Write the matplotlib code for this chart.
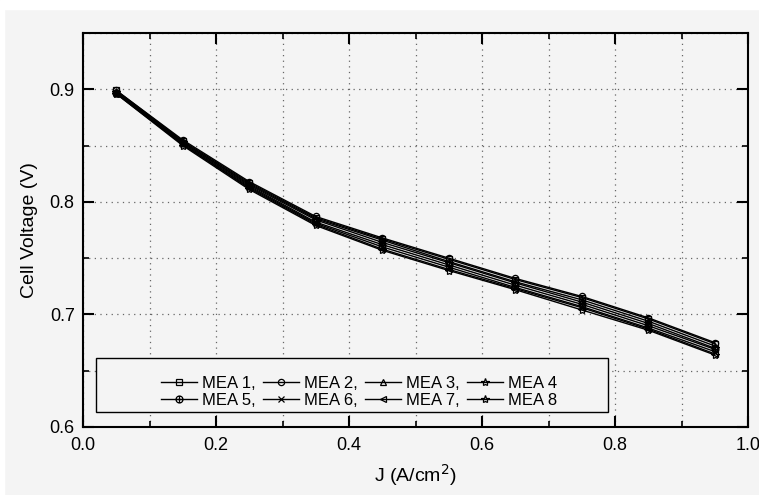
import matplotlib
matplotlib.use("Agg")
import matplotlib.pyplot as plt
import numpy as np
from matplotlib.path import Path
from matplotlib.patches import Rectangle
from matplotlib.ticker import MultipleLocator

plt.rcParams['font.family'] = ['Liberation Sans', 'DejaVu Sans']

J = [0.05, 0.15, 0.25, 0.35, 0.45, 0.55, 0.65, 0.75, 0.85, 0.95]
mea1 = [0.899, 0.854, 0.817, 0.786, 0.767, 0.749, 0.731, 0.715, 0.696, 0.674]
mea2 = [0.899, 0.855, 0.818, 0.787, 0.768, 0.750, 0.732, 0.716, 0.697, 0.675]
mea3 = [0.898, 0.853, 0.816, 0.785, 0.766, 0.747, 0.729, 0.713, 0.694, 0.672]
mea4 = [0.898, 0.853, 0.815, 0.784, 0.764, 0.746, 0.728, 0.711, 0.692, 0.670]
mea5 = [0.897, 0.852, 0.814, 0.782, 0.762, 0.744, 0.726, 0.709, 0.690, 0.669]
mea6 = [0.897, 0.851, 0.813, 0.781, 0.760, 0.742, 0.724, 0.707, 0.688, 0.667]
mea7 = [0.896, 0.851, 0.812, 0.780, 0.758, 0.740, 0.723, 0.706, 0.687, 0.665]
mea8 = [0.896, 0.850, 0.811, 0.779, 0.757, 0.739, 0.722, 0.704, 0.686, 0.664]
labels = ["MEA 1,", "MEA 2,", "MEA 3,", "MEA 4", "MEA 5,", "MEA 6,", "MEA 7,", "MEA 8"]
series = [mea1, mea2, mea3, mea4, mea5, mea6, mea7, mea8]

# circle with plus marker
circ = Path.unit_circle()
verts = list(circ.vertices) + [(-1, 0), (1, 0), (0, -1), (0, 1)]
codes = list(circ.codes) + [Path.MOVETO, Path.LINETO, Path.MOVETO, Path.LINETO]
oplus = Path(verts, codes)

markers = ['s', 'o', '^', '*', oplus, 'x', '<', '*']
msizes = [4.5, 4.5, 5, 6, 5, 5, 5, 6]

bg = '#f4f4f4'
fig = plt.figure(figsize=(7.59, 4.95), dpi=100, facecolor=bg)
ax = fig.add_axes([83/759, 1-427/495, 665/759, 394/495])
ax.set_facecolor(bg)

# white border strips of the original image
fig.patches.append(Rectangle((0, 1-9/495), 1, 9/495, transform=fig.transFigure, color='white', zorder=-10))
fig.patches.append(Rectangle((0, 0), 4/759, 1, transform=fig.transFigure, color='white', zorder=-10))

handles = []
for s, m, ms, lab in zip(series, markers, msizes, labels):
    h, = ax.plot(J, s, color='black', lw=1.0, marker=m, markersize=ms,
                 markerfacecolor='none', markeredgecolor='black', markeredgewidth=0.9, label=lab)
    handles.append(h)

ax.set_xlim(0, 1.0)
ax.set_ylim(0.6, 0.95)
ax.xaxis.set_major_locator(MultipleLocator(0.2))
ax.xaxis.set_minor_locator(MultipleLocator(0.1))
ax.yaxis.set_major_locator(MultipleLocator(0.1))
ax.yaxis.set_minor_locator(MultipleLocator(0.05))
ax.xaxis.set_major_formatter(plt.FuncFormatter(lambda v, p: f"{v:.1f}"))
ax.yaxis.set_major_formatter(plt.FuncFormatter(lambda v, p: f"{v:.1f}"))

ax.tick_params(which='both', direction='in', top=True, right=True, colors='black', labelsize=13)
ax.tick_params(which='major', length=8, width=1.5)
ax.tick_params(which='minor', length=4, width=1.2)
ax.tick_params(axis='x', pad=7)
ax.tick_params(axis='y', pad=6)
for sp in ax.spines.values():
    sp.set_linewidth(1.5)

ax.grid(True, which='both', color='#666666', linestyle=(0, (1, 3.5)), linewidth=0.9)
ax.set_axisbelow(True)

ax.set_xlabel("J (A/cm$^2$)", fontsize=14, labelpad=6)
ax.set_ylabel("Cell Voltage (V)", fontsize=14, labelpad=8)

# legend frame
ax.add_patch(Rectangle(((96-83)/665, (427-412)/394), 512/665, 54/394, transform=ax.transAxes,
                       facecolor=bg, edgecolor='black', lw=1.0, zorder=3))
order = [0, 4, 1, 5, 2, 6, 3, 7]
leg = ax.legend(handles=[handles[i] for i in order], labels=[labels[i] for i in order],
                ncol=4, loc='center',
                bbox_to_anchor=((359-83)/665, (427-392)/394), frameon=False,
                fontsize=12, handlelength=2.2, handletextpad=0.3, columnspacing=0.4,
                labelspacing=0.1, borderpad=0.0)
leg.set_zorder(4)

fig.savefig("out.png", dpi=100, facecolor=bg)
